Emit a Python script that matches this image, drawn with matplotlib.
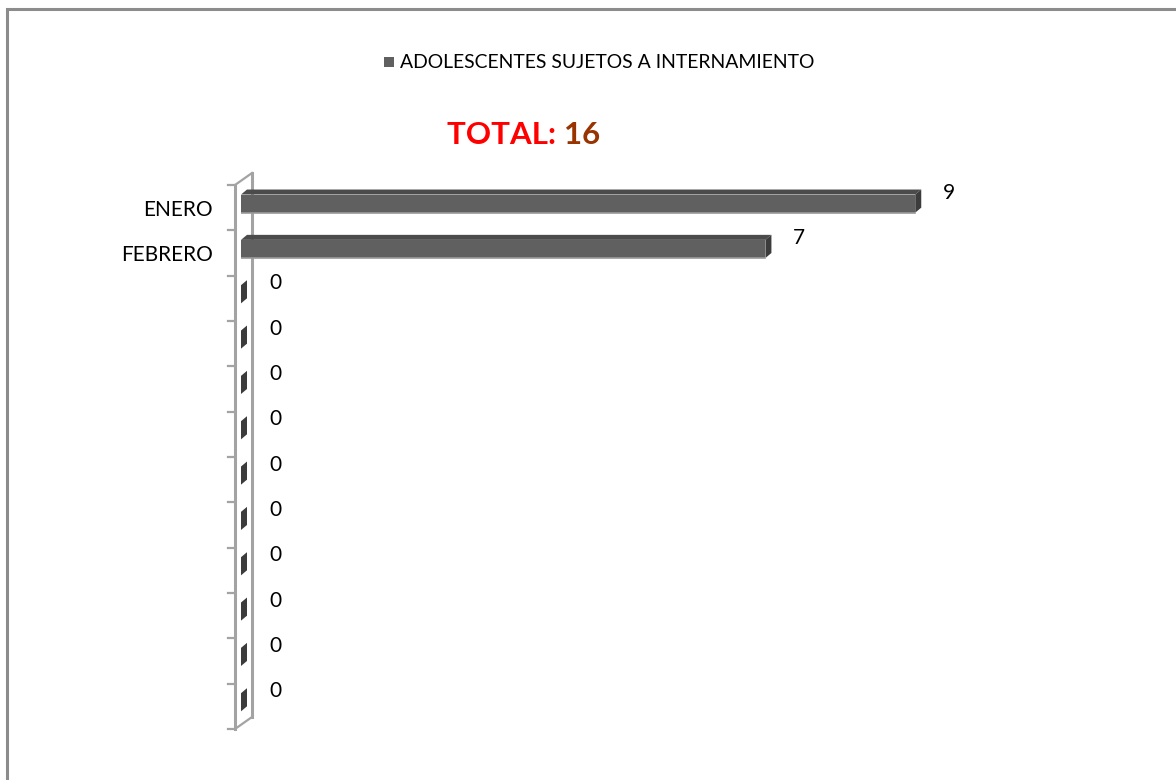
import matplotlib
matplotlib.use("Agg")
import matplotlib.pyplot as plt
from matplotlib.patches import Polygon, Rectangle
from matplotlib.lines import Line2D
import matplotlib.transforms as mtransforms

categories = ["ENERO", "FEBRERO", "", "", "", "", "", "", "", "", "", ""]
values = [9, 7, 0, 0, 0, 0, 0, 0, 0, 0, 0, 0]
series_name = "ADOLESCENTES SUJETOS A INTERNAMIENTO"
total_label = "TOTAL: "
total_value = "16"

W, H = 1176, 780
fig = plt.figure(figsize=(W / 100, H / 100), dpi=100)
fig.patch.set_facecolor("white")

# outer border (only top and left visible)
fig.add_artist(Rectangle((7 / W, -0.1), 1.2, 1 - 9 / H + 0.1, transform=fig.transFigure,
                         fill=False, edgecolor="#8c8c8c", linewidth=2.2))

x0_px, x1_px = 241, 1140
top_px, bot_px = 185, 729
ax = fig.add_axes([x0_px / W, (H - bot_px) / H, (x1_px - x0_px) / W, (bot_px - top_px) / H])
n = len(categories)
ax.set_xlim(0, 12)
ax.set_ylim(n - 0.5, -0.5)
ax.axis("off")

px_x = 12 / (x1_px - x0_px)          # data units per px in x
px_y = n / (bot_px - top_px)         # data units per px in y

def off(dx, dy):
    return mtransforms.offset_copy(ax.transData, fig=fig, x=dx, y=dy, units="dots")

# wall (back + front vertical lines with diagonals)
wall_col = "#a3a3a3"
front = off(-6, 0)
back = off(11, 12)
ax.add_line(Line2D([0, 0], [-0.5, n - 0.5], transform=front, color=wall_col, lw=2.2,
                   clip_on=False, zorder=1))
ax.add_line(Line2D([0, 0], [-0.5, n - 0.5], transform=back, color=wall_col, lw=2.2,
                   clip_on=False, zorder=1))
for yy in (-0.5, n - 0.5):
    ax.add_line(Line2D([-6 * px_x, 11 * px_x], [yy, yy - 12 * px_y], color=wall_col,
                       lw=1.6, clip_on=False, zorder=1))
for i in range(n + 1):
    yy = i - 0.5
    ax.add_line(Line2D([-7 * px_x, 0], [yy, yy], transform=front,
                       color=wall_col, lw=1.6, clip_on=False, zorder=1))

# bars with 3D look
bh = 0.40
dx = 6 * px_x
dy = 5 * px_y
ys = [i - 0.09 for i in range(n)]
ax.barh(ys, values, height=bh, color="#606060", edgecolor="none", zorder=3)
for i, (y, v) in enumerate(zip(ys, values)):
    top = y - bh / 2
    bot = y + bh / 2
    ax.add_patch(Polygon([(0, top), (v, top), (v + dx, top - dy), (dx, top - dy)],
                         closed=True, facecolor="#4b4b4b", edgecolor="none", zorder=3,
                         clip_on=False))
    ax.add_patch(Polygon([(v, top), (v + dx, top - dy), (v + dx, bot - dy), (v, bot)],
                         closed=True, facecolor="#3c3c3c", edgecolor="none", zorder=4,
                         clip_on=False))
    if v > 0:
        ax.add_line(Line2D([0, v], [bot, bot], color="#9a9a9a", lw=1.2, zorder=4))
    ax.text(v, i, str(v), transform=off(34, 15), fontsize=15, family="Lato",
            color="black", ha="center", va="center", clip_on=False)

# category labels
for i, c in enumerate(categories):
    if c:
        ax.text(0, i, c, transform=off(-28, -2), fontsize=15, family="Lato",
                ha="right", va="center", color="black")

# legend
fig.add_artist(Rectangle((384 / W, 1 - 67 / H), 10 / W, 10 / H, transform=fig.transFigure,
                         facecolor="#606060", edgecolor="none"))
fig.text(400 / W, 1 - 62 / H, series_name, fontsize=13.95, family="Lato",
         ha="left", va="center", color="black")

# total
t1 = fig.text(447 / W, 1 - 135 / H, total_label, fontsize=22.5, family="Lato",
              fontweight="bold", color="#ff0000", ha="left", va="center")
fig.canvas.draw()
bb = t1.get_window_extent()
fig.text(bb.x1 / W, 1 - 135 / H, total_value, fontsize=22.5, family="Lato",
         fontweight="bold", color="#993300", ha="left", va="center")

fig.savefig("out.png", dpi=100, facecolor="white")
